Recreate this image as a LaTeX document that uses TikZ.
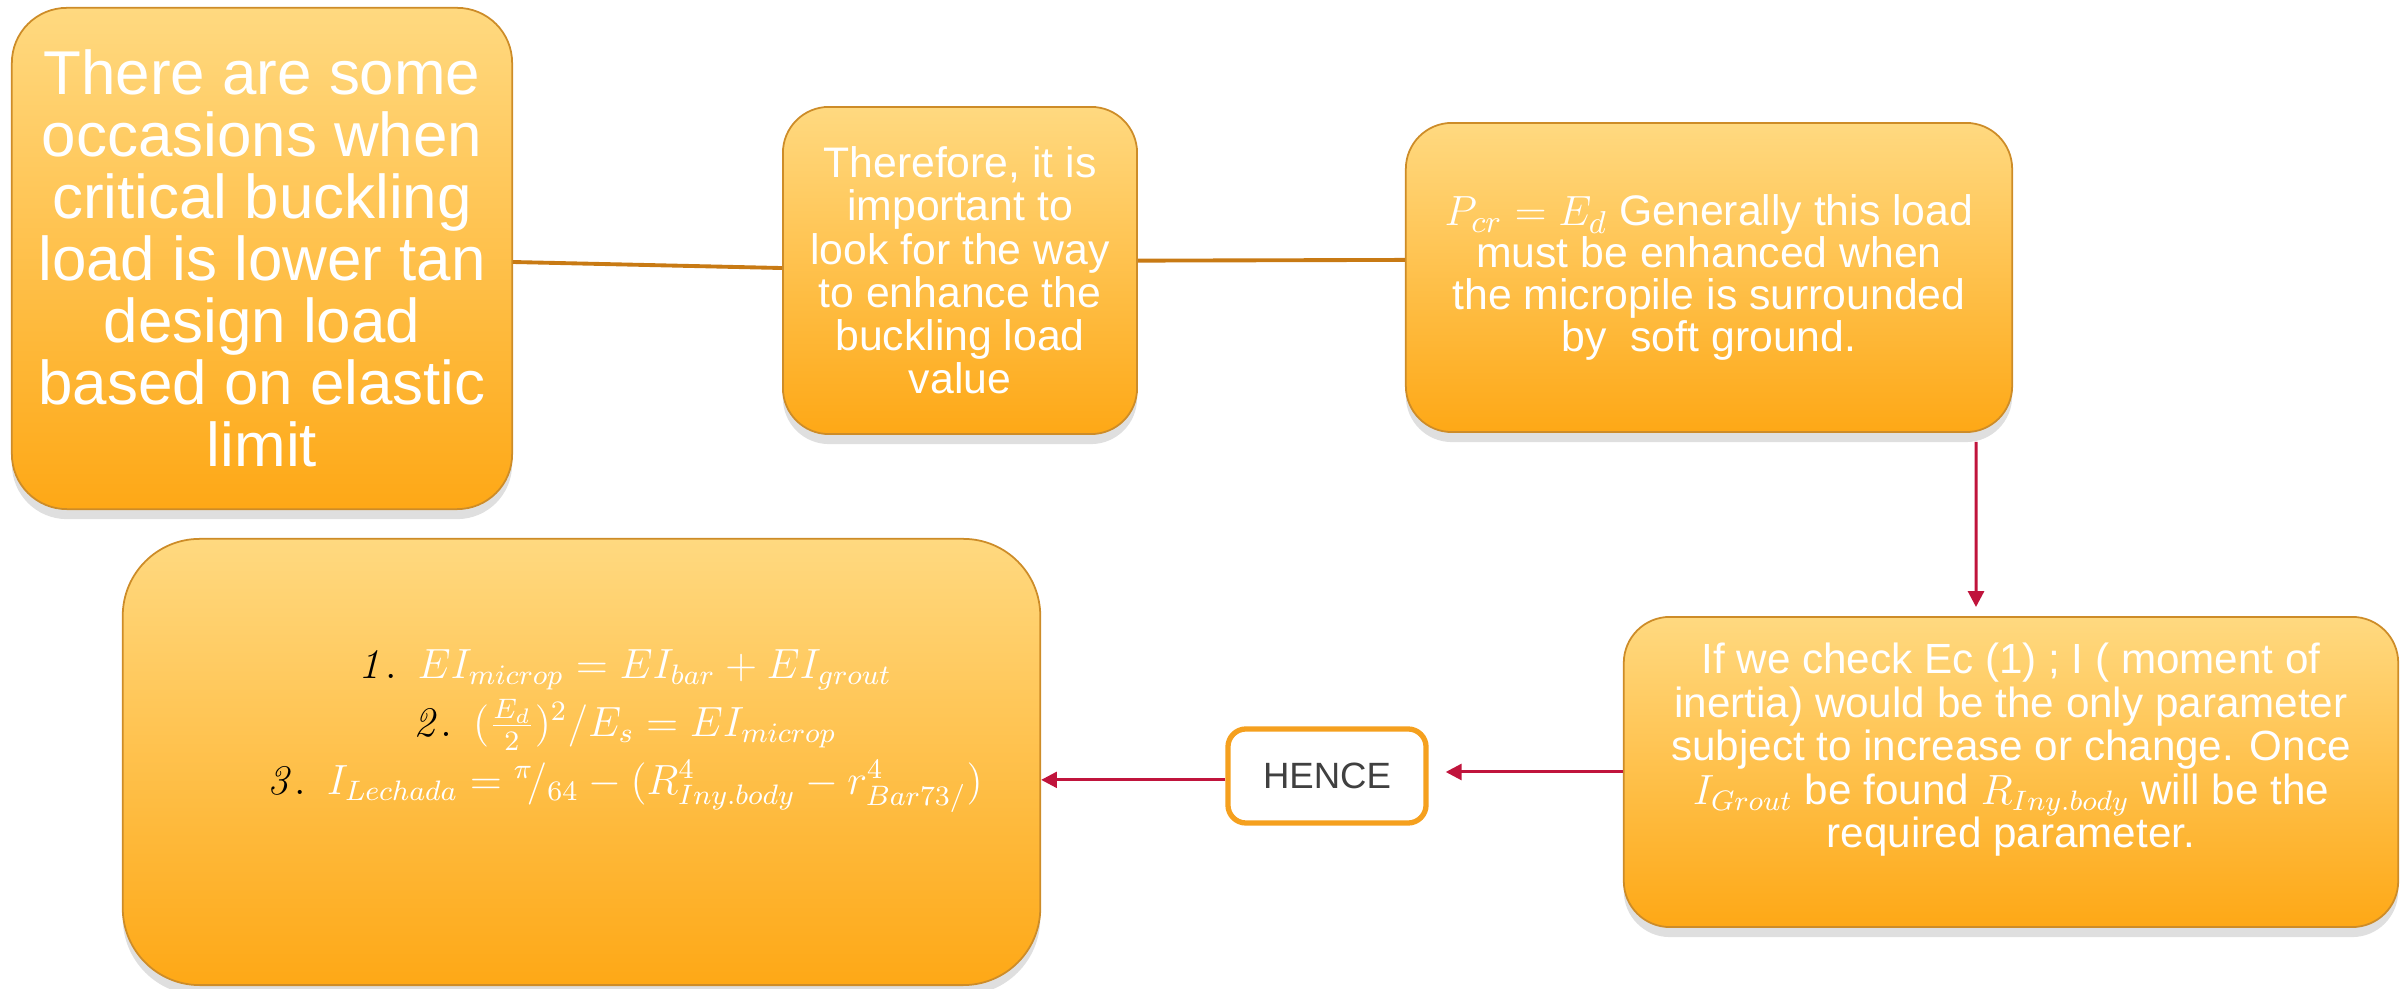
\documentclass[tikz,border=0pt]{standalone}
\usepackage[no-math]{fontspec}
\setmainfont{Liberation Sans}
\usetikzlibrary{arrows.meta,shadows}
\definecolor{cardtop}{RGB}{255,217,128}
\definecolor{cardbot}{RGB}{254,168,22}
\definecolor{cardedge}{RGB}{205,140,40}
\definecolor{linkline}{RGB}{200,122,20}
\definecolor{arrowred}{RGB}{192,20,60}
\definecolor{henceedge}{RGB}{245,160,30}
\definecolor{hencetext}{RGB}{64,64,64}
\newcommand{\lift}[3]{\raisebox{#2}[\height][\depth]{\hspace*{#1}\begin{tabular}{@{}c@{}}#3\end{tabular}}}
\begin{document}
\begin{tikzpicture}[x=0.01cm,y=-0.01cm,line join=round,>=stealth]
	\tikzset{card/.style={draw=cardedge,line width=0.5pt,top color=cardtop,bottom color=cardbot,
			drop shadow={shadow xshift=0pt,shadow yshift=-1mm,opacity=0.25},
			text=white,align=center,inner sep=0pt,rounded corners=0.46cm},
		link/.style={draw=linkline,line width=1.1pt},
		redarrow/.style={draw=arrowred,line width=0.85pt,-{Triangle[length=4.5pt,width=4.5pt]}}}
	\useasboundingbox (0,0) rectangle (2402,989);
	\node[card,minimum width=5.00cm,minimum height=5.01cm,rounded corners=0.55cm,
		font=\fontsize{17.6}{17.6}\selectfont] (cond) at (262,258.5)
		{There are some\\occasions when\\critical buckling\\load is lower tan\\design load\\based on elastic\\limit};
	\node[card,minimum width=3.54cm,minimum height=3.27cm,font=\fontsize{12.15}{12.3}\selectfont] (enh) at (960,270.5)
		{Therefore, it is\\important to\\look for the way\\to enhance the\\buckling load\\value};
	\node[card,minimum width=6.06cm,minimum height=3.09cm,font=\fontsize{12.15}{11.9}\selectfont] (pcr) at (1709,277.5)
		{$P_{cr}=E_d$ Generally this load\\must be enhanced when\\the micropile is surrounded\\by\ \ soft ground.};
	\node[card,minimum width=7.74cm,minimum height=3.10cm,font=\fontsize{12}{12.3}\selectfont] (chk) at (2011,772)
		{\lift{0pt}{0.2cm}{If we check Ec (1) ; I ( moment of\\inertia) would be the only parameter\\subject to increase or change. Once\\
		$I_{Grout}$ be found $R_{Iny.body}$ will be the\\required parameter.}};
	\node[card,minimum width=9.17cm,minimum height=4.46cm,rounded corners=0.77cm,font=\fontsize{12}{16.5}\selectfont] (eqs) at (581.5,762)
		{\lift{0.87cm}{0.37cm}{{\color{black}$\mathit{1.}$}\enspace $EI_{microp}=EI_{bar}+EI_{grout}$\\
		{\color{black}$\mathit{2.}$}\enspace $(\frac{E_d}{2})^2/E_s=EI_{microp}$\\
		{\color{black}$\mathit{3.}$}\enspace $I_{Lechada}={}^{\pi}\!/_{64}-(R^4_{Iny.body}-r^4_{Bar73/})$}};
	\node[draw=henceedge,fill=white,line width=1.5pt,rounded corners=0.18cm,minimum width=1.98cm,minimum height=0.94cm,
		text=hencetext,font=\fontsize{10.4}{12}\selectfont] (hence) at (1327,776) {HENCE};
	\draw[link] ([yshift=-1pt]cond.east) -- ([yshift=0.7pt]enh.west);
	\draw[link] ([yshift=2.8pt]enh.east) -- ([yshift=5pt]pcr.west);
	\draw[redarrow,shorten <=0.09cm,shorten >=0.09cm] ([xshift=2.67cm]pcr.south) -- ([xshift=-0.35cm]chk.north);
	\draw[redarrow,shorten >=0.17cm] (chk.west) -- (chk.west -| hence.east);
	\draw[redarrow] ([yshift=-1.1pt]hence.west) -- ([yshift=-1.1pt]hence.west -| eqs.east);
\end{tikzpicture}
\end{document}
